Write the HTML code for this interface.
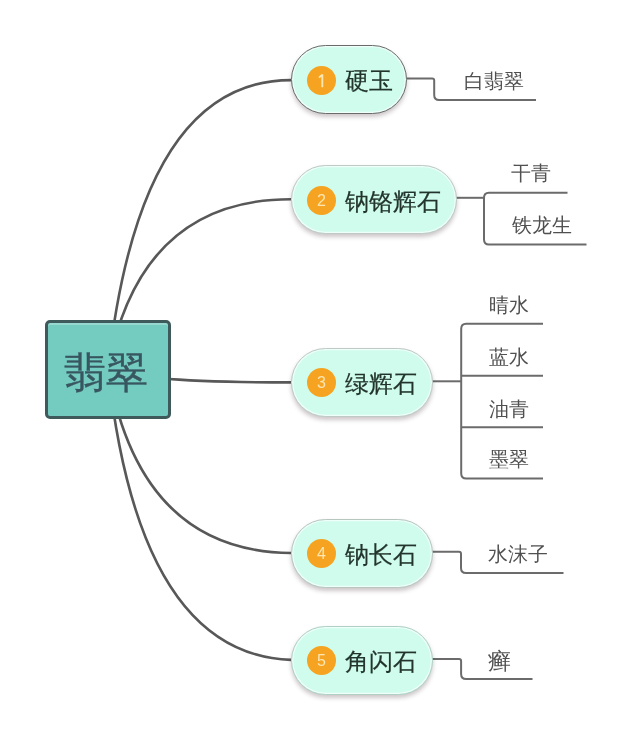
<!DOCTYPE html><html><head><meta charset="utf-8"><style>
html,body{margin:0;padding:0;background:#fff;width:635px;height:742px;overflow:hidden}
body{position:relative;font-family:"Liberation Sans",sans-serif}
svg{position:absolute;left:0;top:0}
.c{position:absolute;left:45px;top:320px;width:120px;height:92.5px;background:#74cbc0;border:3px solid #3f5a5a;border-radius:5px;box-shadow:inset 0 2px 0 rgba(255,255,255,0.25)}
.ct{position:absolute;left:64px;top:342.5px;font-size:42px;line-height:60px;color:#38565f;-webkit-text-stroke:0.4px #38565f;white-space:nowrap;will-change:transform}
.p{position:absolute;height:69px;border-radius:34.5px;background:#cffcec;box-sizing:border-box;box-shadow:inset 0 0 0 1.3px #effff9,0 3px 4px rgba(60,40,50,0.26)}
.b{position:absolute;width:29px;height:29px;border-radius:50%;background:#f5a320;color:#fde6b0;font-size:16px;line-height:29px;text-align:center;will-change:transform}
.pt{position:absolute;font-size:24px;line-height:30px;color:#22342c;-webkit-text-stroke:0.2px #22342c;white-space:nowrap;will-change:transform}
.st{position:absolute;font-size:20px;line-height:30px;color:#505050;white-space:nowrap;will-change:transform}
</style></head><body>
<svg width="635" height="742" viewBox="0 0 635 742"><path d="M108,369 Q140,80.1 291,80.1" fill="none" stroke="#585858" stroke-width="2.6"/><path d="M108,369 Q140,199.2 291,199.2" fill="none" stroke="#585858" stroke-width="2.6"/><path d="M108,369 Q140,382.4 291,382.4" fill="none" stroke="#585858" stroke-width="2.6"/><path d="M108,369 Q139.6,551.5 291,553.0" fill="none" stroke="#585858" stroke-width="2.6"/><path d="M108,369 Q138.8,654.5 291,659.9" fill="none" stroke="#585858" stroke-width="2.6"/><path d="M407,78.6 L432.2,78.6 Q434.2,78.6 434.2,80.6 L434.2,95.0 Q434.2,100 439.2,100.0 L536,100" fill="none" stroke="#6b6b6b" stroke-width="2"/><path d="M456,197.8 L484,197.8" fill="none" stroke="#6b6b6b" stroke-width="2"/><path d="M567.5,192.8 L489.0,192.8 Q484,192.8 484.0,197.8 L484.0,239.4 Q484,244.4 489.0,244.4 L586.5,244.4" fill="none" stroke="#6b6b6b" stroke-width="2"/><path d="M432,381.3 L461.2,381.3" fill="none" stroke="#6b6b6b" stroke-width="2"/><path d="M543,323.8 L466.2,323.8 Q461.2,323.8 461.2,328.8 L461.2,473.5 Q461.2,478.5 466.2,478.5 L543,478.5" fill="none" stroke="#6b6b6b" stroke-width="2"/><path d="M461.2,375.7 L543,375.7" fill="none" stroke="#6b6b6b" stroke-width="2"/><path d="M461.2,427.3 L543,427.3" fill="none" stroke="#6b6b6b" stroke-width="2"/><path d="M432,551.8 L459.0,551.8 Q461,551.8 461.0,553.8 L461.0,568.0 Q461,573 466.0,573.0 L563.5,573" fill="none" stroke="#6b6b6b" stroke-width="2"/><path d="M432,658.9 L459.1,658.9 Q461.1,658.9 461.1,660.9 L461.1,674.1 Q461.1,679.1 466.1,679.1 L532.5,679.1" fill="none" stroke="#6b6b6b" stroke-width="2"/></svg>
<div class="c"></div><div class="ct">翡翠</div>
<div class="p" style="left:291px;top:45.1px;width:116px;border:1.4px solid #6a6a6a"></div>
<div class="b" style="left:307px;top:65.6px"><svg width="29" height="29" style="position:absolute;left:0;top:0"><path d="M15.3,8.3 L15.3,21.2 M15.3,8.6 L12,11.6" fill="none" stroke="#fde6b0" stroke-width="1.9"/></svg></div>
<div class="pt" style="left:345px;top:66.3px">硬玉</div>
<div class="p" style="left:291px;top:165.3px;width:165.5px;border:1.4px solid #bfc9c5"></div>
<div class="b" style="left:307px;top:185.8px">2</div>
<div class="pt" style="left:345px;top:186.5px">钠铬辉石</div>
<div class="p" style="left:291px;top:347.9px;width:141.5px;border:1.4px solid #bfc9c5"></div>
<div class="b" style="left:307px;top:368.4px">3</div>
<div class="pt" style="left:345px;top:369.1px">绿辉石</div>
<div class="p" style="left:291px;top:518.5px;width:141.5px;border:1.4px solid #b8c6c0"></div>
<div class="b" style="left:307px;top:539.0px">4</div>
<div class="pt" style="left:345px;top:539.7px">钠长石</div>
<div class="p" style="left:291px;top:625.7px;width:141.5px;border:1.4px solid #b0d0c4"></div>
<div class="b" style="left:307px;top:646.2px">5</div>
<div class="pt" style="left:345px;top:646.9px">角闪石</div>
<div class="st" style="left:463.5px;top:65.8px">白翡翠</div>
<div class="st" style="left:511px;top:158.3px">干青</div>
<div class="st" style="left:512px;top:209.8px">铁龙生</div>
<div class="st" style="left:489px;top:289.8px">晴水</div>
<div class="st" style="left:489px;top:341.5px">蓝水</div>
<div class="st" style="left:489px;top:394.2px">油青</div>
<div class="st" style="left:489px;top:444.2px">墨翠</div>
<div class="st" style="left:488px;top:538.8px">水沫子</div>
<div class="st" style="left:487.5px;top:645.8px"><span style="font-size:23px">癣</span></div>
</body></html>
